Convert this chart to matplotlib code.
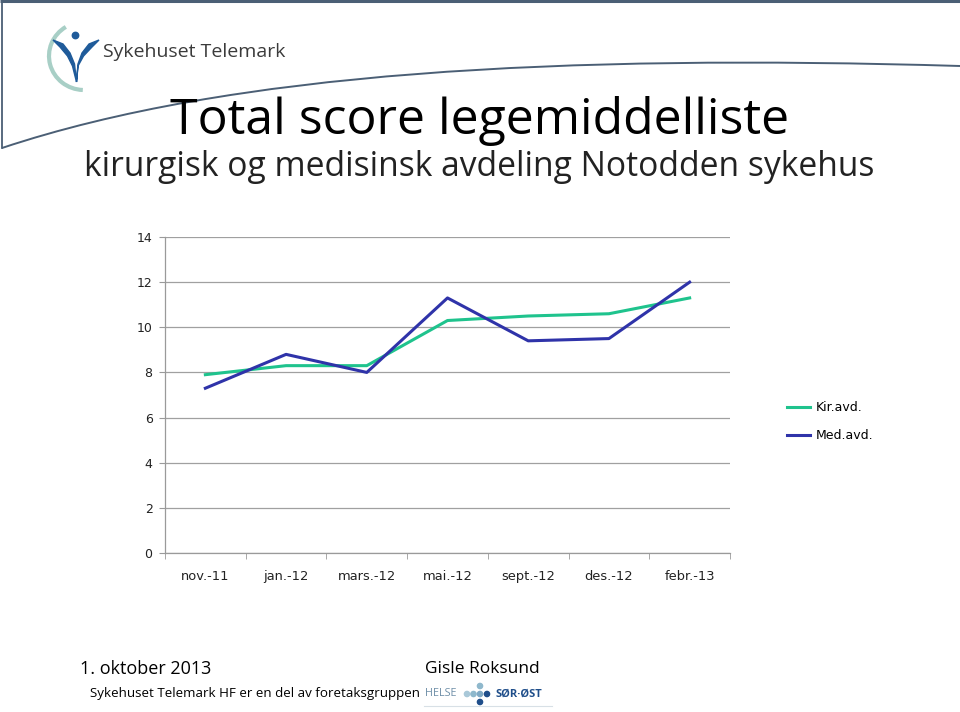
import matplotlib
matplotlib.use("Agg")
import matplotlib.pyplot as plt
from matplotlib.path import Path
from matplotlib.patches import PathPatch, Circle, Arc, Polygon
import numpy as np

categories = ["nov.-11", "jan.-12", "mars.-12", "mai.-12", "sept.-12", "des.-12", "febr.-13"]
kir_values = [7.9, 8.3, 8.3, 10.3, 10.5, 10.6, 11.3]
med_values = [7.3, 8.8, 8.0, 11.3, 9.4, 9.5, 12.0]
series_names = ["Kir.avd.", "Med.avd."]
y_ticks = [0, 2, 4, 6, 8, 10, 12, 14]

GREEN = "#1fc38d"
BLUE = "#2f33a9"
FONT = "Open Sans"
TICKFONT = "DejaVu Sans"

W, H = 960, 712
fig = plt.figure(figsize=(W / 100, H / 100), dpi=100)

# overlay for decorations (pixel coords)
deco = fig.add_axes([0, 0, 1, 1])
deco.set_xlim(0, W)
deco.set_ylim(H, 0)
deco.axis("off")

# borders
deco.plot([0, W], [1.2, 1.2], color="#4b5f75", lw=2.2, solid_capstyle="butt")
deco.plot([2, 2], [0, 148], color="#4b5f75", lw=1.3)
# swoosh
verts = [(2, 148), (230, 72), (560, 54), (960, 66)]
swoosh = PathPatch(Path(verts, [Path.MOVETO, Path.CURVE4, Path.CURVE4, Path.CURVE4]),
                   fill=False, edgecolor="#4b5f75", lw=1.4)
deco.add_patch(swoosh)

# logo
deco.add_patch(Arc((84, 56), 70, 68, theta1=92, theta2=238, color="#a8cfc6", lw=3.0))
deco.add_patch(Circle((75.5, 35.5), 3.2, color="#1f5b9a"))
left_arm = [(53, 40), (63, 44), (70, 53), (74.5, 64), (76.5, 82), (72.5, 66), (67.5, 56), (60, 47)]
right_arm = [(99, 40), (89, 44), (82, 53), (78, 64), (76.5, 82), (78, 66), (83.5, 56), (92, 47)]
deco.add_patch(Polygon(left_arm, closed=True, color="#1f5b9a", lw=1.0))
deco.add_patch(Polygon(right_arm, closed=True, color="#1f5b9a", lw=1.0))
deco.text(103, 52, "Sykehuset Telemark", fontsize=14, color="#3b3b3b", family=FONT,
          va="center", ha="left")

# titles
deco.text(480, 121, "Total score legemiddelliste", fontsize=36, color="black",
          family=FONT, ha="center", va="center")
deco.text(479, 167, "kirurgisk og medisinsk avdeling Notodden sykehus", fontsize=24.2,
          color="#222222", family=FONT, ha="center", va="center")

# footer
deco.text(80, 669, "1. oktober 2013", fontsize=13, color="black", family=FONT, ha="left", va="center")
deco.text(425, 669, "Gisle Roksund", fontsize=12.5, color="black", family=FONT, ha="left", va="center")
deco.text(90, 693, "Sykehuset Telemark HF er en del av foretaksgruppen", fontsize=9.6,
          color="black", family=FONT, ha="left", va="center")
deco.text(425, 694, "HELSE", fontsize=7.8, color="#6f8fa8", family=FONT, ha="left", va="center")
for (cx, cy, c) in [(467, 694, "#a9c8d8"), (473.5, 694, "#8fb8cc"), (480, 694, "#7fa9c4"),
                    (487, 694, "#1f4e8a"), (480, 686, "#8fb8cc"), (480, 702, "#1f4e8a")]:
    deco.add_patch(Circle((cx, cy), 2.6, color=c))
deco.text(496, 694, "SØR·ØST", fontsize=8, color="#1f4e8a", family=FONT, fontweight="bold",
          ha="left", va="center")
deco.plot([424, 552], [706, 706], color="#d8e0e6", lw=0.8)

# chart
ax = fig.add_axes([165 / W, 1 - 553 / H, 565 / W, 316 / H])
x = np.arange(len(categories))
ax.plot(x, kir_values, color=GREEN, lw=2.2, label=series_names[0])
ax.plot(x, med_values, color=BLUE, lw=2.2, label=series_names[1])
ax.set_xlim(-0.5, len(categories) - 0.5)
ax.set_ylim(0, 14)
ax.set_yticks(y_ticks)
ax.set_yticklabels([str(v) for v in y_ticks], fontsize=9, family=TICKFONT, color="#222222")
ax.set_xticks(x)
ax.set_xticklabels(categories, fontsize=9.4, family=TICKFONT, color="#222222")
ax.set_xticks(np.arange(-0.5, len(categories)), minor=True)
ax.tick_params(axis="x", which="major", length=0, pad=12)
ax.tick_params(axis="x", which="minor", length=4, color="#9a9a9a", direction="out")
ax.tick_params(axis="y", length=4, color="#9a9a9a", pad=5)
ax.grid(axis="y", color="#a0a0a0", lw=0.9)
ax.set_axisbelow(True)
for s in ["top", "right"]:
    ax.spines[s].set_visible(False)
for s in ["left", "bottom"]:
    ax.spines[s].set_color("#9a9a9a")
    ax.spines[s].set_linewidth(0.9)

leg = ax.legend(loc="center left", bbox_to_anchor=(1.081, 0.415), frameon=False,
                prop={"family": TICKFONT, "size": 9}, handlelength=1.85, handletextpad=0.45,
                labelspacing=1.2)

fig.savefig("out.png", dpi=100)
